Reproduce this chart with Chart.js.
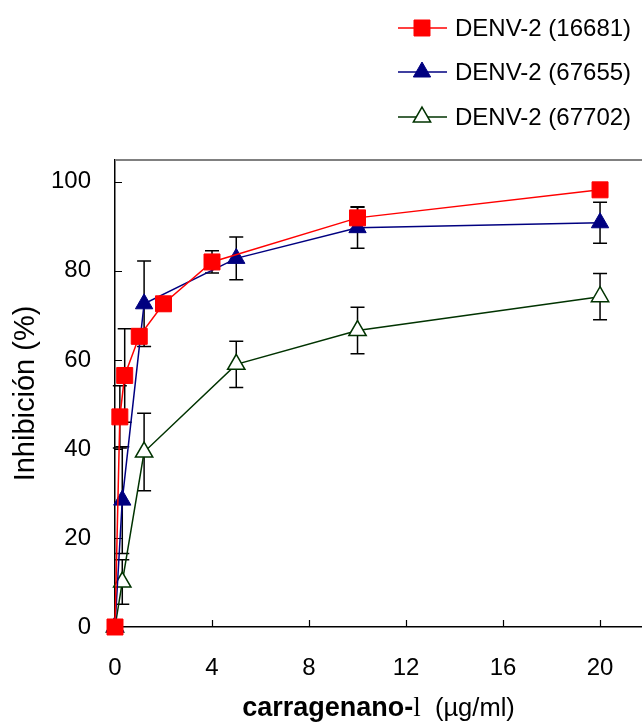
<!DOCTYPE html>
<html>
<head>
<meta charset="utf-8">
<script src="https://cdn.jsdelivr.net/npm/chart.js@4.4.1/dist/chart.umd.min.js"></script>
<style>
  html,body{margin:0;padding:0;background:#fff;}
  #wrap{width:642px;height:722px;}
</style>
</head>
<body>
<div id="wrap"><canvas id="chart" width="642" height="722"></canvas></div>
<script>
// datos
const seriesNames = ['DENV-2 (16681)', 'DENV-2 (67655)', 'DENV-2 (67702)'];

const x16681   = [0, 0.2, 0.4, 1, 2, 4, 10, 20];
const y16681   = [0, 47.2, 56.5, 65.3, 72.6, 82.0, 91.9, 98.2];
const err16681 = [0, 7, 10.5, 1.6, 1.5, 2.5, 2.5, 0];

const x67655   = [0, 0.3, 1.2, 5, 10, 20];
const y67655   = [0, 28.5, 72.6, 82.8, 89.7, 90.8];
const err67655 = [0, 12, 9.6, 4.8, 4.6, 4.6];

const x67702   = [0, 0.3, 1.2, 5, 10, 20];
const y67702   = [0, 10.1, 39.3, 59.0, 66.6, 74.2];
const err67702 = [0, 5, 8.7, 5.2, 5.2, 5.2];

const xTicks = [0, 4, 8, 12, 16, 20];
const yTicks = [0, 20, 40, 60, 80, 100];

const FONT = '"Liberation Sans", Arial, sans-serif';

function pts(xs, ys){ return xs.map((x,i)=>({x:x, y:ys[i]})); }

const errs = [err16681, err67655, err67702];

// barras de error (debajo de los marcadores)
const errorBars = {
  id:'errorBars',
  beforeDatasetsDraw(chart){
    const ctx = chart.ctx, xs = chart.scales.x, ys = chart.scales.y;
    ctx.save();
    ctx.strokeStyle = '#000';
    ctx.lineWidth = 1.5;
    chart.data.datasets.forEach((ds,di)=>{
      ds.data.forEach((p,i)=>{
        const e = errs[di][i];
        if(!e) return;
        const px = xs.getPixelForValue(p.x);
        const yt = ys.getPixelForValue(p.y + e);
        const yb = ys.getPixelForValue(p.y - e);
        ctx.beginPath();
        ctx.moveTo(px, yt); ctx.lineTo(px, yb);
        ctx.moveTo(px-7, yt); ctx.lineTo(px+7, yt);
        ctx.moveTo(px-7, yb); ctx.lineTo(px+7, yb);
        ctx.stroke();
      });
    });
    ctx.restore();
  }
};

// marco: borde superior gris + marcas hacia adentro
const frame = {
  id:'frame',
  beforeDatasetsDraw(chart){
    const ctx = chart.ctx, a = chart.chartArea, xs = chart.scales.x, ys = chart.scales.y;
    ctx.save();
    ctx.strokeStyle = '#808080';
    ctx.lineWidth = 2;
    ctx.beginPath();
    ctx.moveTo(a.left, a.top); ctx.lineTo(a.right, a.top);
    ctx.stroke();
    ctx.strokeStyle = '#000';
    ctx.lineWidth = 1.2;
    ctx.beginPath();
    xTicks.forEach(v=>{
      const px = Math.round(xs.getPixelForValue(v)) + 0.5;
      if(v === 0) return;
      ctx.moveTo(px, a.bottom); ctx.lineTo(px, a.bottom - 7);
    });
    yTicks.forEach(v=>{
      const py = Math.round(ys.getPixelForValue(v)) + 0.5;
      if(v === 0) return;
      ctx.moveTo(a.left, py); ctx.lineTo(a.left + 7, py);
    });
    ctx.stroke();
    ctx.restore();
  }
};

// leyenda arriba a la derecha, linea con marcador
const legendBox = {
  id:'legendBox',
  afterDraw(chart){
    const ctx = chart.ctx;
    const rows = [28, 72, 117];
    ctx.save();
    chart.data.datasets.forEach((ds,i)=>{
      const y = rows[i];
      ctx.strokeStyle = ds.borderColor;
      ctx.lineWidth = 1.5;
      ctx.beginPath();
      ctx.moveTo(398, y); ctx.lineTo(447, y);
      ctx.stroke();
      ctx.fillStyle = ds.pointBackgroundColor;
      ctx.strokeStyle = ds.pointBorderColor;
      ctx.lineWidth = ds.pointBorderWidth;
      Chart.helpers.drawPoint(ctx, {pointStyle: ds.pointStyle, radius: ds.pointRadius, rotation:0, borderWidth: ds.pointBorderWidth}, 422, y);
      ctx.fillStyle = '#000';
      ctx.font = '24px ' + FONT;
      ctx.textAlign = 'left';
      ctx.textBaseline = 'middle';
      ctx.fillText(ds.label, 455, y + 1);
    });
    ctx.restore();
  }
};

// titulo del eje x con partes en negrita
const xTitle = {
  id:'xTitle',
  afterDraw(chart){
    const ctx = chart.ctx, a = chart.chartArea;
    const parts = [
      {t:'carragenano-', f:'bold 27px ' + FONT},
      {t:'l', f:'27px "Liberation Serif", serif'},
      {t:'  (\u00b5g/ml)', f:'25.5px ' + FONT}
    ];
    ctx.save();
    let w = 0;
    parts.forEach(p=>{ ctx.font = p.f; p.w = ctx.measureText(p.t).width; w += p.w; });
    let x = (a.left + a.right)/2 - w/2;
    ctx.fillStyle = '#000';
    ctx.textBaseline = 'alphabetic';
    ctx.textAlign = 'left';
    parts.forEach(p=>{ ctx.font = p.f; ctx.fillText(p.t, x, 716); x += p.w; });
    ctx.restore();
  }
};

new Chart(document.getElementById('chart'), {
  type:'line',
  data:{
    datasets:[
      {
        label: seriesNames[0],
        data: pts(x16681, y16681),
        borderColor:'#FF0000',
        backgroundColor:'#FF0000',
        pointBackgroundColor:'#FF0000',
        pointBorderColor:'#FF0000',
        pointBorderWidth:1,
        pointStyle:'rect',
        pointRadius:11.3,
        borderWidth:1.5,
        clip:false
      },
      {
        label: seriesNames[1],
        data: pts(x67655, y67655),
        borderColor:'#000080',
        backgroundColor:'#000080',
        pointBackgroundColor:'#000080',
        pointBorderColor:'#000080',
        pointBorderWidth:1,
        pointStyle:'triangle',
        pointRadius:10,
        borderWidth:1.5,
        clip:false
      },
      {
        label: seriesNames[2],
        data: pts(x67702, y67702),
        borderColor:'#003300',
        backgroundColor:'#FFFFFF',
        pointBackgroundColor:'#FFFFFF',
        pointBorderColor:'#003300',
        pointBorderWidth:1.5,
        pointStyle:'triangle',
        pointRadius:10,
        borderWidth:1.5,
        clip:false
      }
    ]
  },
  options:{
    responsive:false,
    animation:false,
    layout:{ autoPadding:false, padding:{ top:160, right:0, left:0, bottom:0 } },
    plugins:{ legend:{ display:false }, tooltip:{ enabled:false } },
    scales:{
      x:{
        type:'linear',
        min:0, max:21.73,
        afterBuildTicks: s=>{ s.ticks = xTicks.map(v=>({value:v})); },
        afterFit: s=>{ s.height = 95; s.paddingLeft = 0; s.paddingRight = 0; },
        grid:{ display:false, drawTicks:false },
        border:{ display:true, color:'#000', width:1.5 },
        ticks:{ color:'#000', padding:27, font:{ family:FONT, size:24 } }
      },
      y:{
        min:0, max:104.9,
        afterBuildTicks: s=>{ s.ticks = yTicks.map(v=>({value:v})); },
        afterFit: s=>{ s.width = 115; },
        grid:{ display:false, drawTicks:false },
        border:{ display:true, color:'#000', width:1.5 },
        ticks:{ color:'#000', padding:24, font:{ family:FONT, size:24 } },
        title:{ display:true, text:'Inhibición (%)', color:'#000', padding:{ top:9, bottom:0 }, font:{ family:FONT, size:29 } }
      }
    }
  },
  plugins:[frame, errorBars, legendBox, xTitle]
});
</script>
</body>
</html>
